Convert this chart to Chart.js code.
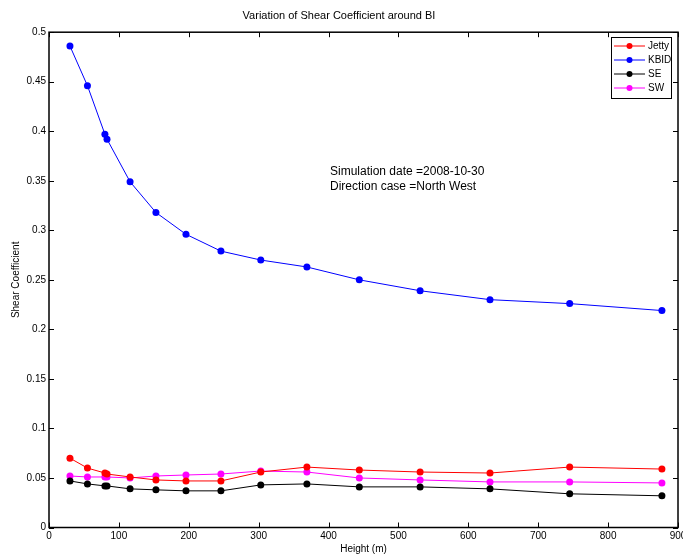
<!DOCTYPE html>
<html>
<head>
<meta charset="utf-8">
<title>Variation of Shear Coefficient around BI</title>
<script src="https://cdn.jsdelivr.net/npm/chart.js@4.4.0/dist/chart.umd.min.js"></script>
<style>
  html, body { margin: 0; padding: 0; background: #fff; }
  #wrap { width: 683px; height: 559px; }
</style>
</head>
<body>
<div id="wrap"><canvas id="shearChart" width="683" height="559"></canvas></div>
<script>
// data
const heights = [30, 55, 80, 83, 116, 153, 196, 246, 303, 369, 444, 531, 631, 745, 877];
const jetty = [0.070, 0.060, 0.055, 0.054, 0.051, 0.048, 0.047, 0.047, 0.056, 0.061, 0.058, 0.056, 0.055, 0.061, 0.059];
const kbid = [0.486, 0.446, 0.397, 0.392, 0.349, 0.318, 0.296, 0.279, 0.270, 0.263, 0.250, 0.239, 0.230, 0.226, 0.219];
const se = [0.047, 0.044, 0.042, 0.042, 0.039, 0.038, 0.037, 0.037, 0.043, 0.044, 0.041, 0.041, 0.039, 0.034, 0.032];
const sw = [0.052, 0.051, 0.051, 0.051, 0.050, 0.052, 0.053, 0.054, 0.057, 0.056, 0.050, 0.048, 0.046, 0.046, 0.045];
const seriesNames = ['Jetty', 'KBID', 'SE', 'SW'];
const seriesColors = ['#ff0000', '#0000ff', '#000000', '#ff00ff'];
const noteLines = ['Simulation date =2008-10-30', 'Direction case =North West'];

const FONT = "'Liberation Sans', Arial, Helvetica, sans-serif";

function toPoints(ys) {
  return heights.map((h, i) => ({ x: h, y: ys[i] }));
}

const allSeries = [jetty, kbid, se, sw];
const datasets = allSeries.map((ys, i) => ({
  label: seriesNames[i],
  data: toPoints(ys),
  borderColor: seriesColors[i],
  backgroundColor: seriesColors[i],
  pointBackgroundColor: seriesColors[i],
  pointBorderColor: seriesColors[i],
  borderWidth: 1,
  pointRadius: 3.5,
  pointBorderWidth: 0,
  tension: 0,
  fill: false
}));

// box, inward ticks on all four sides, legend and note - matlab style
const matlabFrame = {
  id: 'matlabFrame',
  afterDraw(chart) {
    const ctx = chart.ctx;
    const a = chart.chartArea;
    const xs = chart.scales.x, ys = chart.scales.y;
    const tl = 5;
    ctx.save();
    ctx.strokeStyle = '#000';
    ctx.lineWidth = 1;
    ctx.beginPath();
    xs.ticks.forEach(t => {
      const px = Math.round(xs.getPixelForValue(t.value)) + 0.5;
      ctx.moveTo(px, a.bottom); ctx.lineTo(px, a.bottom - tl);
      ctx.moveTo(px, a.top); ctx.lineTo(px, a.top + tl);
    });
    ys.ticks.forEach(t => {
      const py = Math.round(ys.getPixelForValue(t.value)) + 0.5;
      ctx.moveTo(a.left, py); ctx.lineTo(a.left + tl, py);
      ctx.moveTo(a.right, py); ctx.lineTo(a.right - tl, py);
    });
    ctx.stroke();
    ctx.lineWidth = 1.5;
    ctx.strokeRect(a.left, a.top, a.right - a.left, a.bottom - a.top);

    // note text
    ctx.fillStyle = '#000';
    ctx.font = '12px ' + FONT;
    ctx.textBaseline = 'middle';
    ctx.textAlign = 'left';
    noteLines.forEach((s, i) => ctx.fillText(s, 330, 172 + i * 15));

    // legend box
    const lx = 611, ly = 37, lw = 60, lh = 61;
    ctx.fillStyle = '#fff';
    ctx.fillRect(lx, ly, lw, lh);
    ctx.lineWidth = 1;
    ctx.strokeStyle = '#000';
    ctx.strokeRect(lx + 0.5, ly + 0.5, lw, lh);
    ctx.font = '10px ' + FONT;
    chart.data.datasets.forEach((d, i) => {
      const y = ly + 9 + i * 14;
      ctx.strokeStyle = d.borderColor;
      ctx.beginPath();
      ctx.moveTo(lx + 3, y); ctx.lineTo(lx + 34, y);
      ctx.stroke();
      ctx.fillStyle = d.borderColor;
      ctx.beginPath();
      ctx.arc(lx + 18.5, y, 3, 0, Math.PI * 2);
      ctx.fill();
      ctx.fillStyle = '#000';
      ctx.fillText(d.label, lx + 37, y);
    });
    ctx.restore();
  }
};

const ctx = document.getElementById('shearChart').getContext('2d');
const chart = new Chart(ctx, {
  type: 'line',
  data: { datasets },
  options: {
    responsive: false,
    animation: false,
    layout: { padding: { left: 0, right: 5, top: 0, bottom: 0 } },
    plugins: {
      legend: { display: false },
      tooltip: { enabled: false },
      title: {
        display: true,
        text: 'Variation of Shear Coefficient around BI',
        color: '#000',
        font: { family: FONT, size: 11, weight: 'normal' },
        padding: { top: 9, bottom: 10 }
      }
    },
    scales: {
      x: {
        type: 'linear',
        min: 0, max: 900,
        ticks: { stepSize: 100, color: '#000', padding: 3, maxRotation: 0, font: { family: FONT, size: 10 } },
        grid: { display: false, drawTicks: false },
        border: { display: false },
        title: { display: true, text: 'Height (m)', color: '#000', font: { family: FONT, size: 10 }, padding: { top: 0, bottom: 4 } },
        afterFit(scale) { scale.height = 31.5; scale.paddingRight = 0; scale.paddingLeft = 0; }
      },
      y: {
        min: 0, max: 0.5,
        ticks: {
          stepSize: 0.05, color: '#000', padding: 3,
          font: { family: FONT, size: 10 },
          callback: v => String(+v.toFixed(2))
        },
        grid: { display: false, drawTicks: false },
        border: { display: false },
        title: { display: true, text: 'Shear Coefficient', color: '#000', font: { family: FONT, size: 10 }, padding: { top: 10, bottom: 0 } },
        afterFit(scale) { scale.width = 49; scale.paddingTop = 0; scale.paddingBottom = 0; }
      }
    }
  },
  plugins: [matlabFrame]
});
</script>
</body>
</html>
